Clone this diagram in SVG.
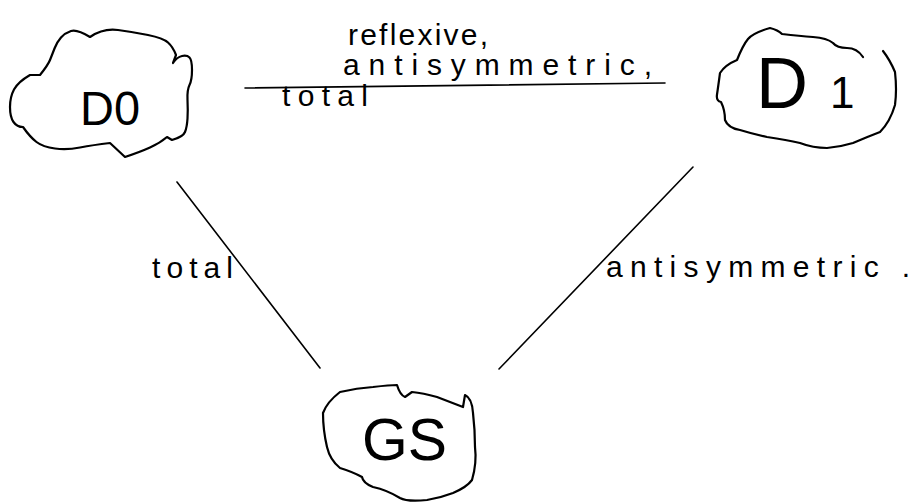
<svg xmlns="http://www.w3.org/2000/svg" width="917" height="504" viewBox="0 0 917 504">
<style>
.cloud{fill:none;stroke:#000;stroke-width:2.2;stroke-linejoin:round;stroke-linecap:round}
.edge{fill:none;stroke:#000;stroke-width:1.6;stroke-linecap:round}
.lbl{font-family:"Liberation Sans","DejaVu Sans",sans-serif;font-size:30px;fill:#000}
.nlbl{font-family:"Liberation Sans","DejaVu Sans",sans-serif;fill:#000}
</style>
<rect width="917" height="504" fill="#fff"/>
<g id="connectors">
<path class="edge" d="M245,88 L665,83"/>
<path class="edge" d="M177,182 L320,368"/>
<path class="edge" d="M693,167 L499,369"/>
<text class="lbl" x="348" y="45" font-size="25" textLength="140" lengthAdjust="spacing">reflexive,</text>
<text class="lbl" x="343" y="75" textLength="309" lengthAdjust="spacing">antisymmetric,</text>
<text class="lbl" x="282" y="106" textLength="86" lengthAdjust="spacing">total</text>
<text class="lbl" x="152" y="278" textLength="81" lengthAdjust="spacing">total</text>
<text class="lbl" x="606" y="277" textLength="304" lengthAdjust="spacing">antisymmetric .</text>
</g>
<g id="D0">
<path class="cloud" d="M90,37 Q77,29 71,31 Q65,33 61,37.5 Q57,42 54.5,48.5 Q52,55 50,60 Q48,65 40,75 L30,75 Q18,82 14,89.5 Q10,97 10,107 Q10,117 13.5,122 Q17,127 23,127 Q30,137 36.5,142 Q43,147 55,148.5 Q67,150 80,147.5 Q93,145 110,143 L125,157 Q140,152 150,147.5 Q160,143 167,137 L172,140 Q183,137 185,132 Q187,127 187.5,118.5 Q188,110 187.5,100 Q187,90 189.5,85 Q192,80 192,70 Q192,60 189.5,57.5 Q187,55 182,56 Q177,57 173,63 L176,55 Q173,47 168,42.5 Q163,38 148,35 Q133,32 118,30 Q103,28 90,37 Z"/>
<text class="nlbl" x="80" y="125" font-size="48" textLength="60" lengthAdjust="spacingAndGlyphs">D0</text>
</g>
<g id="D1">
<path class="cloud" d="M863,57 Q857,48 847,48 Q837,48 833,43 Q827,38 813,37 Q800,36 782,34 Q778,30 770,28 Q753,33 748,39 Q743,45 737,60 Q725,65 720,73 Q718,88 717,94.5 Q716,101 721,102 Q725,110 725,120 Q728,128 740,130 Q753,134 767,137 Q787,140 800,143 Q813,148 827,148 Q840,147 853,143 Q867,137 880,132 Q890,122 895,105 Q897,90 895,72 Q890,60 883,51"/>
<text class="nlbl" y="108"><tspan x="756" font-size="72">D</tspan><tspan x="830" font-size="44">1</tspan></text>
</g>
<g id="GS">
<path class="cloud" d="M397,385 Q400,395 405,397 L412,392 Q423,393 437,397 Q450,402 463,407 L465,395 Q472,398 473,413 Q475,430 475,447 Q477,463 472,480 Q467,487 453,493 Q440,498 427,500 Q407,502 400,498 Q387,490 373,487 Q363,483 362,477 Q353,472 340,468 Q330,460 327,447 Q323,430 323,413 Q327,402 340,392 Q357,388 373,387 Q390,385 397,385 Z"/>
<text class="nlbl" x="362" y="460" font-size="60" textLength="85" lengthAdjust="spacingAndGlyphs">GS</text>
</g>
</svg>
